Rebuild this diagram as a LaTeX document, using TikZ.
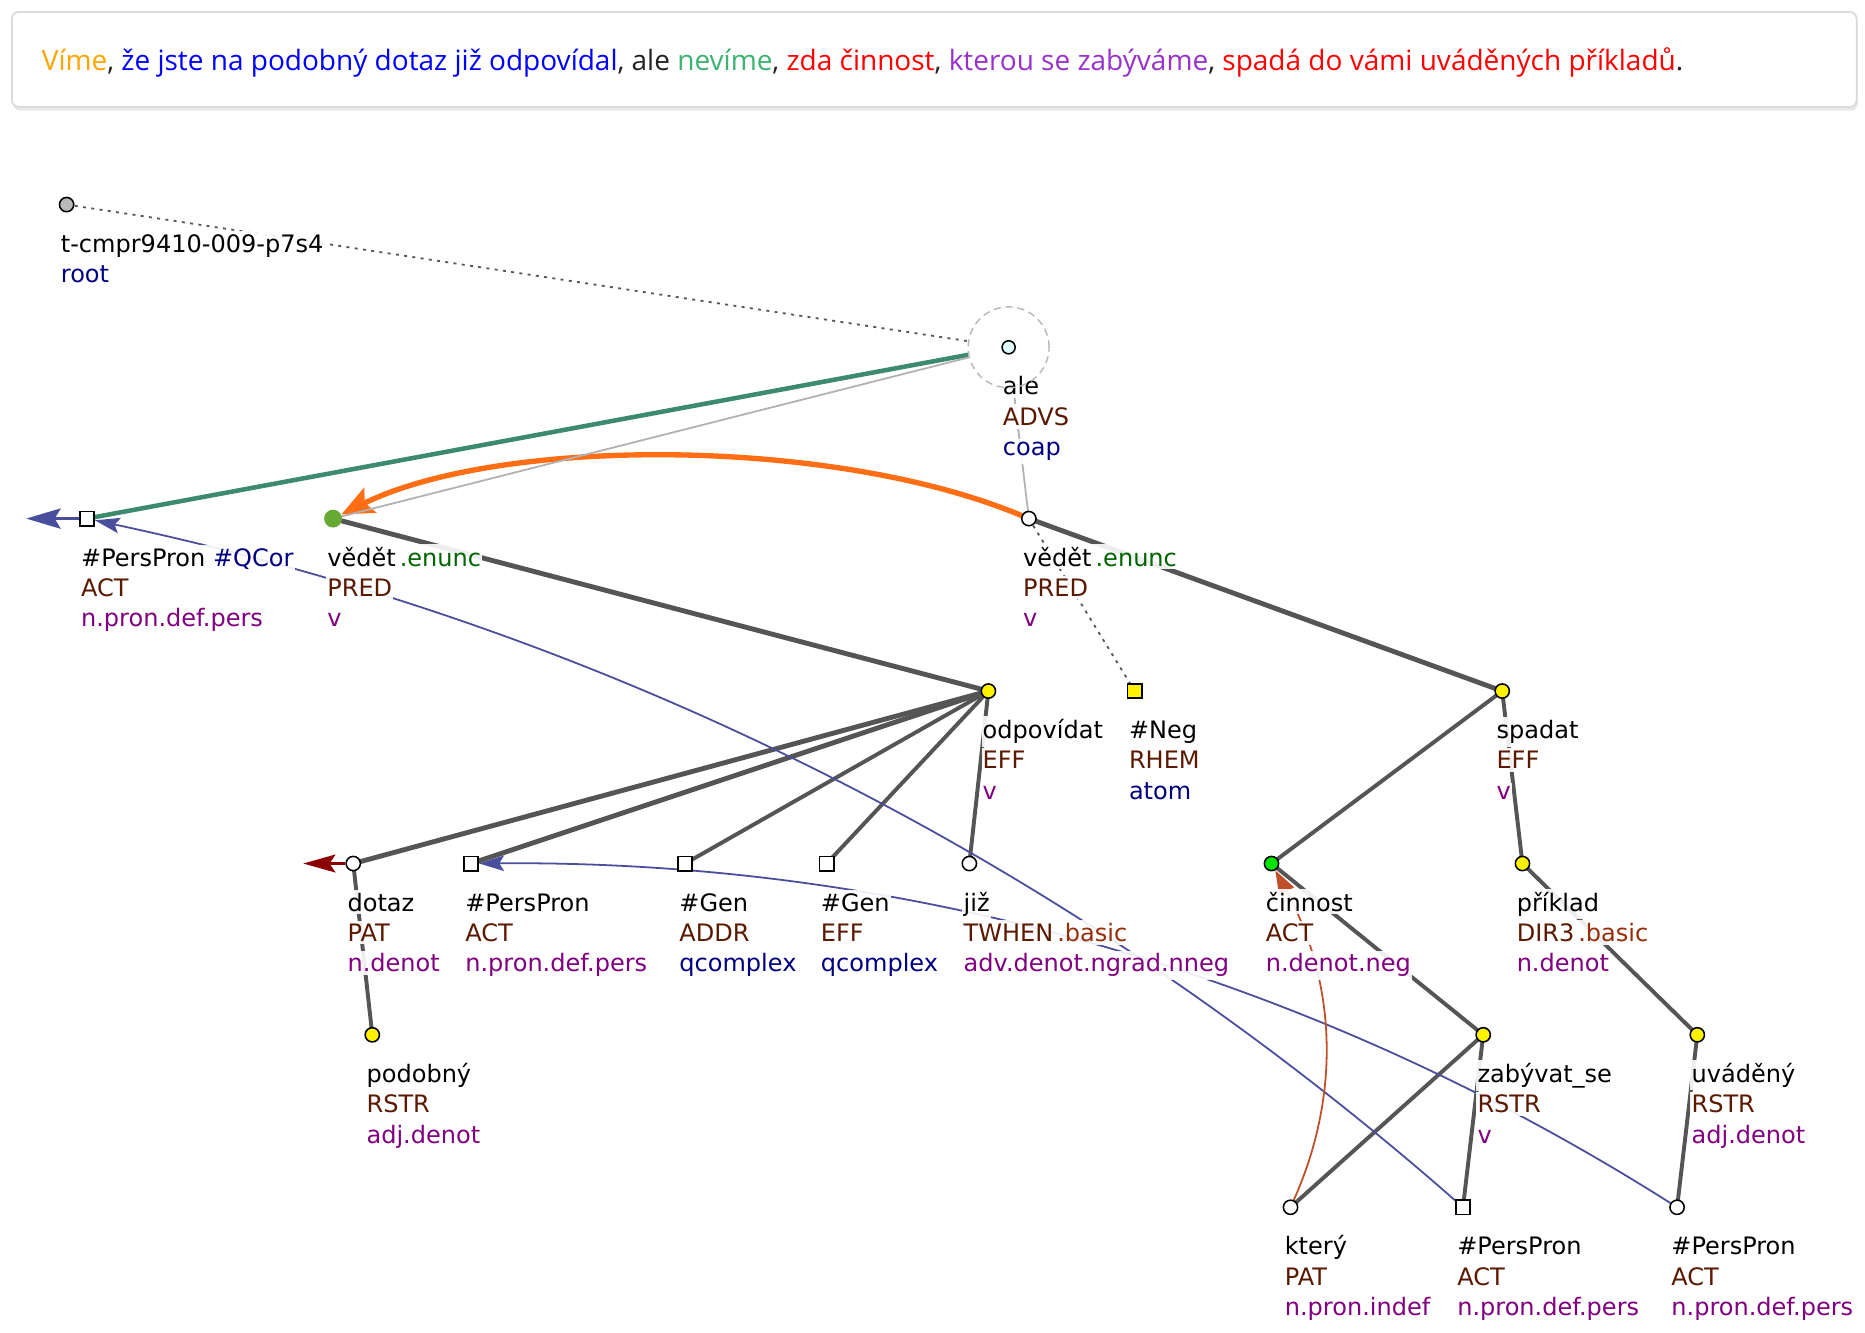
\documentclass[tikz,border=0pt]{standalone}
\usepackage{fontspec}
\setmainfont{DejaVu Sans}
\newfontfamily\topfont{Open Sans}
\usetikzlibrary{arrows.meta}
\pgfdeclarelayer{bg}
\pgfdeclarelayer{edges}
\pgfdeclarelayer{labels}
\pgfsetlayers{bg,edges,labels,main}
\definecolor{fun}{RGB}{90,25,0}
\definecolor{sem}{RGB}{128,0,128}
\definecolor{nav}{RGB}{0,0,128}
\definecolor{enc}{RGB}{0,100,0}
\definecolor{bas}{RGB}{150,45,10}
\definecolor{edg}{RGB}{85,85,85}
\definecolor{corb}{RGB}{74,79,157}
\definecolor{cor}{RGB}{255,110,20}
\definecolor{grn}{RGB}{61,139,110}
\definecolor{brn}{RGB}{192,80,42}
\definecolor{drd}{RGB}{139,0,0}
\definecolor{sorange}{RGB}{255,165,0}
\definecolor{sblue}{RGB}{0,0,255}
\definecolor{sgreen}{RGB}{60,179,113}
\definecolor{sred}{RGB}{255,0,0}
\definecolor{spurple}{RGB}{153,50,204}
\definecolor{sblack}{RGB}{34,34,34}
\definecolor{vgreen}{RGB}{102,170,51}
\definecolor{cgreen}{RGB}{0,230,0}
\definecolor{acyan}{RGB}{224,255,255}
\newcommand{\tlab}[6]{%
  \node[lbl] (#1-a) at (#2-6,#3+40) {#4};
  \node[lbl] (#1-b) at (#2-6,#3+65.5) {#5};
  \node[lbl] (#1-c) at (#2-6,#3+91) {#6};}
\begin{document}
\begin{tikzpicture}[x=1pt,y=-1pt,
  lbl/.style={anchor=base west, font=\fontsize{20.2}{24}\selectfont, inner xsep=1pt, inner ysep=2.5pt, fill=white, fill opacity=0.9, text opacity=1},
  wc/.style={circle, draw=black, line width=1.3, fill=white, inner sep=0pt, minimum size=12},
  yc/.style={wc, fill=yellow},
  sq/.style={rectangle, draw=black, line width=1.5, fill=white, inner sep=0pt, minimum size=12},
  edge/.style={draw=edg, line width=3.3},
  tedge/.style={draw=edg, line width=4.1},
  dots/.style={draw=edg, line width=1.5, dash pattern=on 2.5pt off 4.5pt},
  cref/.style={draw=corb, line width=1.5, -{Stealth[length=21pt,width=13pt,inset=4pt]}}]
\useasboundingbox (0,0) rectangle (1568,1120);
\begin{pgfonlayer}{bg}
\fill[white] (0,0) rectangle (1568,1120);
\fill[black!9, rounded corners=6] (11,12.5) rectangle (1562,93);
\draw[black!14, line width=1.5, fill=white, rounded corners=6] (10,10) rectangle (1561,90);
\end{pgfonlayer}
\node[anchor=base west, inner sep=0pt] (sent) at (35,59.5) {\resizebox{1380pt}{!}{\topfont
 \textcolor{sorange}{Víme}\textcolor{sblack}{,} \textcolor{sblue}{že jste na podobný dotaz již odpovídal}\textcolor{sblack}{, ale} \textcolor{sgreen}{nevíme}\textcolor{sblack}{,} \textcolor{sred}{zda činnost}\textcolor{sblack}{,} \textcolor{spurple}{kterou se zabýváme}\textcolor{sblack}{,} \textcolor{sred}{spadá do vámi uváděných příkladů}\textcolor{sblack}{.}}};
% node markers
\node[wc, fill=black!27] (root) at (56,172) {};
\node[circle, draw=black!28, line width=1.2, dash pattern=on 6pt off 4pt, minimum size=68, inner sep=0pt] (alegrp) at (848,292) {};
\node[wc, fill=acyan, minimum size=11] (ale) at (848,292) {};
\node[sq] (pp1) at (73,436) {};
\node[circle, fill=vgreen, inner sep=0pt, minimum size=15] (v1) at (280,436) {};
\node[wc] (v2) at (865,436) {};
\node[yc] (odp) at (831,581) {};
\node[sq, fill=yellow] (neg) at (954,581) {};
\node[yc] (spa) at (1263,581) {};
\node[wc] (dotaz) at (297,726) {};
\node[sq] (pp2) at (396,726) {};
\node[sq] (gen1) at (576,726) {};
\node[sq] (gen2) at (695,726) {};
\node[wc] (jiz) at (815,726) {};
\node[wc, fill=cgreen] (cin) at (1069,726) {};
\node[yc] (pri) at (1280,726) {};
\node[yc] (pod) at (313,870) {};
\node[yc] (zab) at (1247,870) {};
\node[yc] (uva) at (1427,870) {};
\node[wc] (kte) at (1085,1015) {};
\node[sq] (pp3) at (1230,1015) {};
\node[wc] (pp4) at (1410,1015) {};
\coordinate (qc) at (22,436);
\coordinate (dz) at (255,726);
% edges
\begin{pgfonlayer}{edges}
\draw[dots] (root.center) -- (alegrp);
\draw[grn, line width=3.8] (alegrp) -- (pp1.center);
\draw[cor, line width=4.5, -{Stealth[length=27pt,width=23pt,inset=5pt]}] (v2) .. controls (700,367) and (420,367) .. (v1);
\draw[black!30, line width=1.5] (alegrp) -- (v1.center);
\draw[black!30, line width=1.5] (alegrp) -- (v2.center);
\draw[tedge] (v1.center) -- (odp.center);
\draw[tedge] (v2.center) -- (spa.center);
\draw[dots] (v2.center) -- (neg.center);
\draw[tedge] (odp.center) -- (dotaz.center);
\draw[tedge] (odp.center) -- (pp2.center);
\draw[edge] (odp.center) -- (gen1.center);
\draw[edge] (odp.center) -- (gen2.center);
\draw[edge] (odp.center) -- (jiz.center);
\draw[edge] (dotaz.center) -- (pod.center);
\draw[edge] (spa.center) -- (cin.center);
\draw[edge] (spa.center) -- (pri.center);
\draw[edge] (cin.center) -- (zab.center);
\draw[edge] (pri.center) -- (uva.center);
\draw[edge] (zab.center) -- (kte.center);
\draw[edge] (zab.center) -- (pp3.center);
\draw[edge] (uva.center) -- (pp4.center);
\draw[corb, line width=2.5, -{Stealth[length=29pt,width=17pt,inset=5pt]}] (pp1) -- (qc);
\draw[drd, line width=2.5, -{Stealth[length=27pt,width=15pt,inset=5pt]}] (dotaz) -- (dz);
\draw[cref] (pp3) .. controls (897,723) and (514,530) .. (pp1);
\draw[cref] (pp4) .. controls (1102,820) and (765,723) .. (pp2);
\draw[brn, line width=1.5, -{Triangle[length=20pt,width=14pt]}] (kte) .. controls (1128,919) and (1123,825) .. (cin);
\end{pgfonlayer}
% labels
\begin{pgfonlayer}{labels}
\node[lbl] (root-a) at (50,212) {t-cmpr9410-009-p7s4};
\node[lbl] (root-b) at (50,237.5) {\textcolor{nav}{root}};
\tlab{ale}{848}{292}{ale}{\textcolor{fun}{ADVS}}{\textcolor{nav}{coap}}
\tlab{pp1}{73}{436}{\#PersPron \textcolor{nav}{\#QCor}}{\textcolor{fun}{ACT}}{\textcolor{sem}{n.pron.def.pers}}
\tlab{v1}{280}{436}{vědět\,\textcolor{enc}{.enunc}}{\textcolor{fun}{PRED}}{\textcolor{sem}{v}}
\tlab{v2}{865}{436}{vědět\,\textcolor{enc}{.enunc}}{\textcolor{fun}{PRED}}{\textcolor{sem}{v}}
\tlab{odp}{831}{581}{odpovídat}{\textcolor{fun}{EFF}}{\textcolor{sem}{v}}
\tlab{neg}{954}{581}{\#Neg}{\textcolor{fun}{RHEM}}{\textcolor{nav}{atom}}
\tlab{spa}{1263}{581}{spadat}{\textcolor{fun}{EFF}}{\textcolor{sem}{v}}
\tlab{dotaz}{297}{726}{dotaz}{\textcolor{fun}{PAT}}{\textcolor{sem}{n.denot}}
\tlab{pp2}{396}{726}{\#PersPron}{\textcolor{fun}{ACT}}{\textcolor{sem}{n.pron.def.pers}}
\tlab{gen1}{576}{726}{\#Gen}{\textcolor{fun}{ADDR}}{\textcolor{nav}{qcomplex}}
\tlab{gen2}{695}{726}{\#Gen}{\textcolor{fun}{EFF}}{\textcolor{nav}{qcomplex}}
\tlab{jiz}{815}{726}{již}{\textcolor{fun}{TWHEN}\,\textcolor{bas}{.basic}}{\textcolor{sem}{adv.denot.ngrad.nneg}}
\tlab{cin}{1069}{726}{činnost}{\textcolor{fun}{ACT}}{\textcolor{sem}{n.denot.neg}}
\tlab{pri}{1280}{726}{příklad}{\textcolor{fun}{DIR3}\,\textcolor{bas}{.basic}}{\textcolor{sem}{n.denot}}
\tlab{pod}{313}{870}{podobný}{\textcolor{fun}{RSTR}}{\textcolor{sem}{adj.denot}}
\tlab{zab}{1247}{870}{zabývat\_se}{\textcolor{fun}{RSTR}}{\textcolor{sem}{v}}
\tlab{uva}{1427}{870}{uváděný}{\textcolor{fun}{RSTR}}{\textcolor{sem}{adj.denot}}
\tlab{kte}{1085}{1015}{který}{\textcolor{fun}{PAT}}{\textcolor{sem}{n.pron.indef}}
\tlab{pp3}{1230}{1015}{\#PersPron}{\textcolor{fun}{ACT}}{\textcolor{sem}{n.pron.def.pers}}
\tlab{pp4}{1410}{1015}{\#PersPron}{\textcolor{fun}{ACT}}{\textcolor{sem}{n.pron.def.pers}}
\end{pgfonlayer}
\end{tikzpicture}
\end{document}
